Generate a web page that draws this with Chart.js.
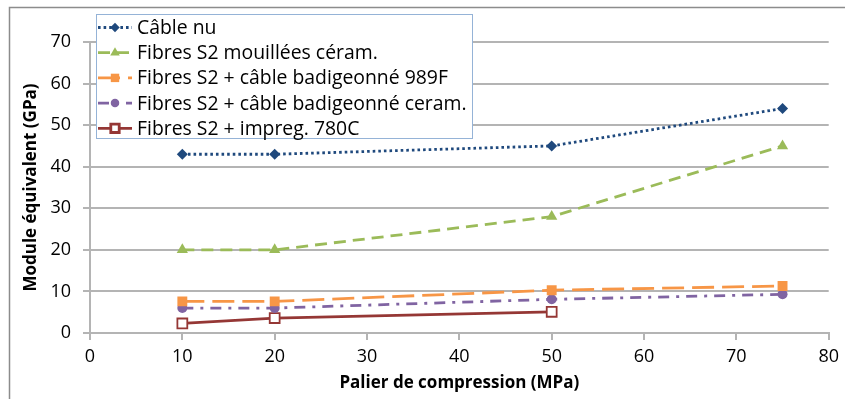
<!DOCTYPE html>
<html>
<head>
<meta charset="utf-8">
<script src="https://cdn.jsdelivr.net/npm/chart.js@4/dist/chart.umd.min.js"></script>
<style>
  html, body { margin: 0; padding: 0; background: #ffffff; }
  #wrap { position: relative; width: 845px; height: 399px; }
</style>
</head>
<body>
<div id="wrap"><canvas id="chart" width="845" height="399"></canvas></div>
<script>
// Palier de compression (MPa)
const paliers = [10, 20, 50, 75];

// Module équivalent (GPa) par configuration
const cableNu = [43, 43, 45, 54];
const fibresMouillees = [20, 20, 28, 45];
const badigeonne989F = [7.6, 7.6, 10.3, 11.3];
const badigeonneCeram = [6, 6, 8.1, 9.3];
const impreg780C = [2.3, 3.6, 5.1];

const libelles = [
    'Câble nu',
    'Fibres S2 mouillées céram.',
    'Fibres S2 + câble badigeonné 989F',
    'Fibres S2 + câble badigeonné ceram.',
    'Fibres S2 + impreg. 780C'
];

const yTicks = [0, 10, 20, 30, 40, 50, 60, 70];
const xTicks = [0, 10, 20, 30, 40, 50, 60, 70, 80];

const FONT = '"Open Sans", Lato, sans-serif';

function points(values) {
    return values.map((v, i) => ({ x: paliers[i], y: v }));
}

function serie(label, values, color, dash, style, radius, fill) {
    return {
        label: label,
        data: points(values),
        borderColor: color,
        backgroundColor: fill || color,
        borderWidth: 2.8,
        borderDash: dash,
        pointStyle: style,
        pointRadius: radius,
        pointBorderColor: color,
        pointBackgroundColor: fill || color,
        pointBorderWidth: fill ? 1.8 : 0,
        tension: 0
    };
}

const datasets = [
    serie(libelles[0], cableNu, '#1F497D', [2.6, 3], 'rectRot', 5.5),
    serie(libelles[1], fibresMouillees, '#9BBB59', [12, 7], 'triangle', 6.5),
    serie(libelles[2], badigeonne989F, '#F79646', [22, 8], 'rect', 7),
    serie(libelles[3], badigeonneCeram, '#8064A2', [11, 7, 3, 7], 'circle', 5),
    serie(libelles[4], impreg780C, '#953735', [], 'rect', 7, '#ffffff')
];

// cadre gris de la zone du graphique
const cadre = {
    id: 'cadre',
    beforeDraw(chart) {
        const ctx = chart.ctx;
        ctx.save();
        ctx.strokeStyle = '#8c8c8c';
        ctx.lineWidth = 1.5;
        ctx.beginPath();
        ctx.moveTo(9.5, 399);
        ctx.lineTo(9.5, 7.5);
        ctx.lineTo(845, 7.5);
        ctx.stroke();
        ctx.restore();
    }
};

// légende encadrée dans le coin haut gauche
const legende = {
    id: 'legende',
    afterDatasetsDraw(chart) {
        const ctx = chart.ctx;
        const x0 = 96, y0 = 14, w = 376, h = 124;
        ctx.save();
        ctx.fillStyle = '#ffffff';
        ctx.fillRect(x0, y0, w, h);
        ctx.strokeStyle = '#95B3D7';
        ctx.lineWidth = 1;
        ctx.strokeRect(x0 + 0.5, y0 + 0.5, w, h);

        chart.data.datasets.forEach((ds, i) => {
            const y = 27.5 + i * 25.2;
            ctx.save();
            ctx.strokeStyle = ds.borderColor;
            ctx.lineWidth = ds.borderWidth;
            ctx.setLineDash(ds.borderDash);
            ctx.beginPath();
            ctx.moveTo(98, y);
            ctx.lineTo(132, y);
            ctx.stroke();
            ctx.setLineDash([]);
            ctx.fillStyle = ds.pointBackgroundColor;
            ctx.strokeStyle = ds.pointBorderColor;
            Chart.helpers.drawPoint(ctx, {
                pointStyle: ds.pointStyle,
                radius: ds.pointRadius * 0.85,
                borderWidth: ds.pointBorderWidth,
                rotation: 0
            }, 115, y);
            ctx.restore();

            ctx.fillStyle = '#000000';
            ctx.font = '19.4px ' + FONT;
            ctx.textBaseline = 'middle';
            ctx.textAlign = 'left';
            ctx.fillText(ds.label, 137, y + 1);
        });
        ctx.restore();
    }
};

new Chart(document.getElementById('chart'), {
    type: 'line',
    data: { datasets: datasets },
    plugins: [cadre, legende],
    options: {
        responsive: false,
        animation: false,
        layout: { padding: { top: 42, right: 8, left: 0, bottom: 0 } },
        plugins: {
            legend: { display: false },
            tooltip: { enabled: false }
        },
        scales: {
            x: {
                type: 'linear',
                min: 0,
                max: 80,
                afterBuildTicks: (scale) => { scale.ticks = xTicks.map(v => ({ value: v })); },
                afterFit: (scale) => { scale.height = 66; },
                border: { color: '#b4b4b4', width: 2 },
                grid: { drawOnChartArea: false, color: '#b4b4b4', lineWidth: 2, tickLength: 7 },
                ticks: { color: '#000000', font: { family: FONT, size: 18 }, padding: 6, maxRotation: 0 },
                title: {
                    display: true,
                    text: 'Palier de compression (MPa)',
                    color: '#000000',
                    font: { family: FONT, size: 17, weight: 'bold' },
                    padding: { top: 0, bottom: 6 }
                }
            },
            y: {
                min: 0,
                max: 70,
                afterBuildTicks: (scale) => { scale.ticks = yTicks.map(v => ({ value: v })); },
                afterFit: (scale) => { scale.width = 90; },
                border: { color: '#b4b4b4', width: 2 },
                grid: { color: '#b4b4b4', lineWidth: 2, tickLength: 7 },
                ticks: { color: '#000000', font: { family: FONT, size: 18 }, padding: 12 },
                title: {
                    display: true,
                    text: 'Module équivalent (GPa)',
                    color: '#000000',
                    font: { family: FONT, size: 17, weight: 'bold' },
                    padding: { top: 21, bottom: 0 }
                }
            }
        }
    }
});
</script>
</body>
</html>
